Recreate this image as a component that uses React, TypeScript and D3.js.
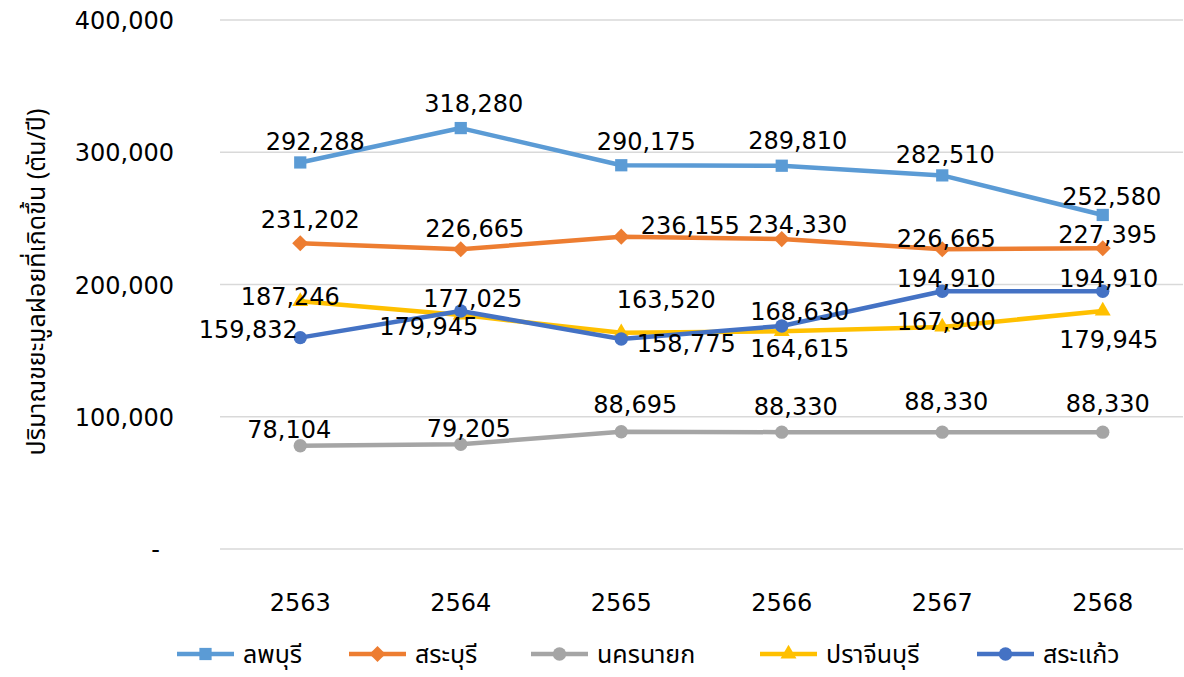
import * as d3 from 'd3';
import React, { FC, useEffect, useRef } from 'react';

const years = ['2563', '2564', '2565', '2566', '2567', '2568'];
const seriesNames = ['ลพบุรี', 'สระบุรี', 'นครนายก', 'ปราจีนบุรี', 'สระแก้ว'];

const lopburi = [292288, 318280, 290175, 289810, 282510, 252580];
const saraburi = [231202, 226665, 236155, 234330, 226665, 227395];
const nakhonNayok = [78104, 79205, 88695, 88330, 88330, 88330];
const prachinburi = [187246, 177025, 163520, 164615, 167900, 179945];
const sakaeo = [159832, 179945, 158775, 168630, 194910, 194910];

const yTicks = [0, 100000, 200000, 300000, 400000];

// label nudges [dx, dy] from each point, as placed in the original
const labelNudge: [number, number][][] = [
	[[15, -12], [13, -16], [25, -15], [16, -17], [3, -12], [9, -10]],
	[[10, -15], [14, -12], [69, -3], [16, -6], [4, -2], [5, -5]],
	[[-11, -8], [8, -7], [14, -19], [14, -17], [4, -22], [5, -20]],
	[[-10, 4], [12, -8], [45, -25], [18, 26], [4, 3], [6, 37]],
	[[-52, 0], [-32, 24], [65, 13], [18, -6], [4, -4], [6, -4]],
];

const colors = ['#5B9BD5', '#ED7D31', '#A5A5A5', '#FFC000', '#4472C4'];
const symbols = [d3.symbolSquare, d3.symbolSquare, d3.symbolCircle, d3.symbolTriangle, d3.symbolCircle];
const symbolSize = [150, 130, 140, 110, 140];
const symbolRotate = [0, 45, 0, 0, 0];
const legendX = [177, 349, 531, 760, 977];

const numFont = "'DejaVu Sans', Tahoma, sans-serif";
const thaiFont = "Tahoma, 'Noto Sans Thai', 'Leelawadee UI', 'DejaVu Sans', sans-serif";

const App: FC = () => {
	const containerDiv = useRef<HTMLDivElement>(null);
	const width = 1184;
	const height = 677;

	useEffect(() => {
		const values = [lopburi, saraburi, nakhonNayok, prachinburi, sakaeo];

		const x: any = d3.scaleBand().domain(years).range([220, 1183]);
		const y = d3.scaleLinear().domain([0, 400000]).range([549, 20]);
		const cx = (i: number) => x(years[i]) + x.bandwidth() / 2;

		const svg = d3.create('svg').attr('width', width).attr('height', height).attr('viewBox', `0 0 ${width} ${height}`);
		svg.append('rect').attr('width', width).attr('height', height).attr('fill', '#fff');

		// grid
		svg.append('g')
			.selectAll('line')
			.data(yTicks)
			.join('line')
			.attr('x1', 220)
			.attr('x2', 1183)
			.attr('y1', d => y(d))
			.attr('y2', d => y(d))
			.attr('stroke', '#d9d9d9')
			.attr('stroke-width', 1.3);

		svg.append('g')
			.selectAll('text')
			.data(yTicks)
			.join('text')
			.attr('x', d => (d === 0 ? 160 : 174))
			.attr('y', d => y(d) + 9)
			.attr('text-anchor', 'end')
			.attr('font-family', numFont)
			.attr('font-size', 24)
			.attr('fill', '#000')
			.text(d => (d === 0 ? '-' : d3.format(',')(d)));

		svg.append('g')
			.selectAll('text')
			.data(years)
			.join('text')
			.attr('x', (d, i) => cx(i))
			.attr('y', 611)
			.attr('text-anchor', 'middle')
			.attr('font-family', numFont)
			.attr('font-size', 24)
			.text(d => d);

		svg.append('text')
			.attr('transform', 'translate(45,282) rotate(-90)')
			.attr('text-anchor', 'middle')
			.attr('font-family', thaiFont)
			.attr('font-size', 25)
			.text('ปริมาณขยะมูลฝอยที่เกิดขึ้น (ตัน/ปี)');

		const line = d3
			.line<number>()
			.x((d, i) => cx(i))
			.y(d => y(d));

		values.forEach((vals, s) => {
			const g = svg.append('g');
			g.append('path')
				.attr('d', line(vals))
				.attr('fill', 'none')
				.attr('stroke', colors[s])
				.attr('stroke-width', 4.5)
				.attr('stroke-linejoin', 'round');
			g.selectAll('path.m')
				.data(vals)
				.join('path')
				.attr('class', 'm')
				.attr('transform', (d, i) => `translate(${cx(i)},${y(d)}) rotate(${symbolRotate[s]})`)
				.attr('d', d3.symbol(symbols[s], symbolSize[s])())
				.attr('fill', colors[s]);
		});

		values.forEach((vals, s) => {
			svg.append('g')
				.selectAll('text')
				.data(vals)
				.join('text')
				.attr('x', (d, i) => cx(i) + labelNudge[s][i][0])
				.attr('y', (d, i) => y(d) + labelNudge[s][i][1])
				.attr('text-anchor', 'middle')
				.attr('font-family', numFont)
				.attr('font-size', 24)
				.attr('fill', '#000')
				.text(d => d3.format(',')(d));
		});

		// legend
		const legend = svg.append('g');
		seriesNames.forEach((name, s) => {
			const lg = legend.append('g').attr('transform', `translate(${legendX[s]},654)`);
			lg.append('line').attr('x1', 0).attr('x2', 57).attr('stroke', colors[s]).attr('stroke-width', 4.5);
			lg.append('path')
				.attr('transform', `translate(28.5,0) rotate(${symbolRotate[s]})`)
				.attr('d', d3.symbol(symbols[s], symbolSize[s])())
				.attr('fill', colors[s]);
			lg.append('text')
				.attr('x', 66)
				.attr('y', 9)
				.attr('font-family', thaiFont)
				.attr('font-size', 25)
				.text(name);
		});

		const container = containerDiv.current as HTMLDivElement;
		const node = svg.node();
		if (container && node) {
			container.firstChild && container.removeChild(container.firstChild);
			container.appendChild(node);
		}
	}, []);

	return <div ref={containerDiv} style={{ position: 'absolute', left: 0, top: 0 }}></div>;
};

export default App;
